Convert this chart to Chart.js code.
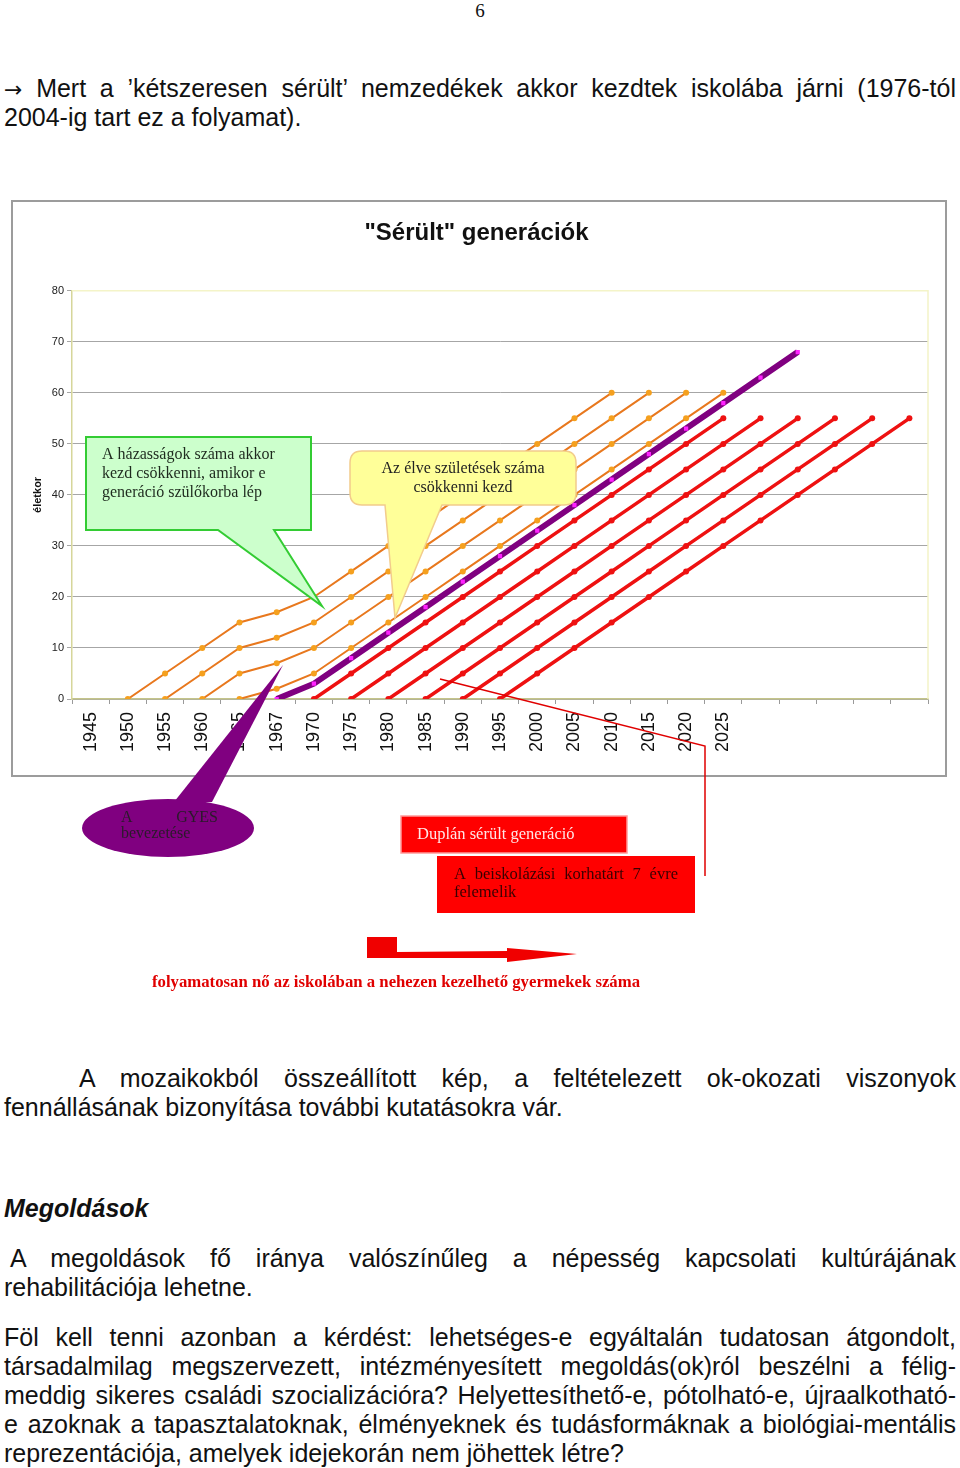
<!DOCTYPE html>
<html lang="hu">
<head>
<meta charset="utf-8">
<title>"Sérült" generációk</title>
<script src="https://cdn.jsdelivr.net/npm/chart.js@4.4.0/dist/chart.umd.min.js"></script>
<style>
  html, body { margin: 0; padding: 0; background: #fff; }
  body { width: 960px; height: 1468px; position: relative; overflow: hidden; font-family: "Liberation Sans", Arial, sans-serif; color: #111; }
  #grafikon { position: absolute; left: 0; top: 0; }
  .oldalszam { position: absolute; left: 0; width: 960px; top: 0; text-align: center; font-family: "Liberation Serif", serif; font-size: 19px; line-height: 22px; }
  .sor { position: absolute; left: 4px; width: 952px; font-size: 25px; line-height: 29px; white-space: nowrap; }
  .sorkizart { text-align: justify; text-align-last: justify; white-space: normal; }
  .cim { font-weight: bold; font-style: italic; }
  .nyil { font-family: "DejaVu Sans", sans-serif; font-size: 22px; }
</style>
</head>
<body>
<div class="oldalszam">6</div>
<div class="sor sorkizart" style="top:74px"><span class="nyil">→</span> Mert a ’kétszeresen sérült’ nemzedékek akkor kezdtek iskolába járni (1976-tól</div>
<div class="sor" style="top:103px">2004-ig tart ez a folyamat).</div>

<canvas id="grafikon" width="960" height="1010"></canvas>

<div class="sor sorkizart" style="top:1064px; left:79px; width:877px">A mozaikokból összeállított kép, a feltételezett ok-okozati viszonyok</div>
<div class="sor" style="top:1093px">fennállásának bizonyítása további kutatásokra vár.</div>
<div class="sor cim" style="top:1194px">Megoldások</div>
<div class="sor sorkizart" style="top:1244px; left:10px; width:946px">A megoldások fő iránya valószínűleg a népesség kapcsolati kultúrájának</div>
<div class="sor" style="top:1273px">rehabilitációja lehetne.</div>
<div class="sor sorkizart" style="top:1323px">Föl kell tenni azonban a kérdést: lehetséges-e egyáltalán tudatosan átgondolt,</div>
<div class="sor sorkizart" style="top:1352px">társadalmilag megszervezett, intézményesített megoldás(ok)ról beszélni a félig-</div>
<div class="sor sorkizart" style="top:1381px">meddig sikeres családi szocializációra? Helyettesíthető-e, pótolható-e, újraalkotható-</div>
<div class="sor sorkizart" style="top:1410px">e azoknak a tapasztalatoknak, élményeknek és tudásformáknak a biológiai-mentális</div>
<div class="sor" style="top:1439px">reprezentációja, amelyek idejekorán nem jöhettek létre?</div>

<script>
const evek = ['1945', '1950', '1955', '1960', '1965', '1967', '1970', '1975', '1980', '1985', '1990', '1995',
    '2000', '2005', '2010', '2015', '2020', '2025', '', '', '', '', ''];
const _ = null;
// szülők nemzedékei (narancs)
const narancs1 = [_, 0, 5, 10, 15, 17, 20, 25, 30, 35, 40, 45, 50, 55, 60, _, _, _, _, _, _, _, _];
const narancs2 = [_, _, 0, 5, 10, 12, 15, 20, 25, 30, 35, 40, 45, 50, 55, 60, _, _, _, _, _, _, _];
const narancs3 = [_, _, _, 0, 5, 7, 10, 15, 20, 25, 30, 35, 40, 45, 50, 55, 60, _, _, _, _, _, _];
const narancs4 = [_, _, _, _, 0, 2, 5, 10, 15, 20, 25, 30, 35, 40, 45, 50, 55, 60, _, _, _, _, _];
// GYES-es nemzedék (lila)
const lila = [_, _, _, _, _, 0, 3, 8, 13, 18, 23, 28, 33, 38, 43, 48, 53, 58, 63, 68, _, _, _];
// sérült nemzedékek (piros)
const piros1 = [_, _, _, _, _, _, 0, 5, 10, 15, 20, 25, 30, 35, 40, 45, 50, 55, _, _, _, _, _];
const piros2 = [_, _, _, _, _, _, _, 0, 5, 10, 15, 20, 25, 30, 35, 40, 45, 50, 55, _, _, _, _];
const piros3 = [_, _, _, _, _, _, _, _, 0, 5, 10, 15, 20, 25, 30, 35, 40, 45, 50, 55, _, _, _];
const piros4 = [_, _, _, _, _, _, _, _, _, 0, 5, 10, 15, 20, 25, 30, 35, 40, 45, 50, 55, _, _];
const piros5 = [_, _, _, _, _, _, _, _, _, _, 0, 5, 10, 15, 20, 25, 30, 35, 40, 45, 50, 55, _];
const piros6 = [_, _, _, _, _, _, _, _, _, _, _, 0, 5, 10, 15, 20, 25, 30, 35, 40, 45, 50, 55];

const narancsSorok = [narancs1, narancs2, narancs3, narancs4];
const pirosSorok = [piros1, piros2, piros3, piros4, piros5, piros6];

Chart.defaults.font.family = "'Liberation Sans', Arial, sans-serif";

function narancsVonal(adat) {
    return { data: adat, borderColor: '#E8781E', borderWidth: 2, pointRadius: 3, pointBackgroundColor: '#F5A01E',
        pointBorderWidth: 0, order: 3 };
}
function pirosVonal(adat) {
    return { data: adat, borderColor: '#EE1111', borderWidth: 3.5, pointRadius: 3, pointBackgroundColor: '#EE1111',
        pointBorderWidth: 0, order: 2 };
}

const datasets = [
    { data: lila, borderColor: '#800080', borderWidth: 6, pointStyle: 'rect', pointRadius: 3,
        pointBackgroundColor: '#FF22FF', pointBorderWidth: 0, order: 1 },
    ...pirosSorok.map(pirosVonal),
    ...narancsSorok.map(narancsVonal)
];

// szöveg sorkizárva a megadott szélességre
function sorkizart(ctx, szoveg, x, y, szelesseg) {
    const szavak = szoveg.split(' ');
    const osszes = szavak.reduce((s, w) => s + ctx.measureText(w).width, 0);
    const koz = (szelesseg - osszes) / (szavak.length - 1);
    let px = x;
    szavak.forEach(w => {
        ctx.fillText(w, px, y);
        px += ctx.measureText(w).width + koz;
    });
}

const keret = {
    id: 'keret',
    beforeDraw(chart) {
        const ctx = chart.ctx;
        ctx.save();
        ctx.strokeStyle = '#9c9c9c';
        ctx.lineWidth = 2;
        ctx.strokeRect(12, 201, 934, 575);
        ctx.restore();
    },
    beforeDatasetsDraw(chart) {
        const { ctx, chartArea: a } = chart;
        ctx.save();
        ctx.strokeStyle = '#F4F4C8';
        ctx.lineWidth = 1.5;
        ctx.beginPath();
        ctx.moveTo(a.left, a.top);
        ctx.lineTo(a.right, a.top);
        ctx.lineTo(a.right, a.bottom);
        ctx.stroke();
        ctx.restore();
    }
};

const rajzok = {
    id: 'rajzok',
    afterDraw(chart) {
        const ctx = chart.ctx;
        ctx.save();
        ctx.textBaseline = 'middle';

        // zöld szövegbuborék
        ctx.beginPath();
        ctx.moveTo(86, 437); ctx.lineTo(311, 437); ctx.lineTo(311, 530); ctx.lineTo(274, 530);
        ctx.lineTo(322, 606); ctx.lineTo(218, 530); ctx.lineTo(86, 530); ctx.closePath();
        ctx.fillStyle = '#CCFFCC';
        ctx.fill();
        ctx.strokeStyle = '#33CC33';
        ctx.lineWidth = 2;
        ctx.stroke();
        ctx.fillStyle = '#1E2A1E';
        ctx.font = "16px 'Liberation Serif', serif";
        ctx.textAlign = 'left';
        ctx.fillText('A házasságok száma akkor', 102, 455);
        ctx.fillText('kezd csökkenni, amikor e', 102, 474);
        ctx.fillText('generáció szülőkorba lép', 102, 493);

        // sárga szövegbuborék
        ctx.beginPath();
        const r = 12;
        ctx.moveTo(350 + r, 451);
        ctx.lineTo(576 - r, 451); ctx.quadraticCurveTo(576, 451, 576, 451 + r);
        ctx.lineTo(576, 505 - r); ctx.quadraticCurveTo(576, 505, 576 - r, 505);
        ctx.lineTo(442, 505); ctx.lineTo(395, 618); ctx.lineTo(385, 505);
        ctx.lineTo(350 + r, 505); ctx.quadraticCurveTo(350, 505, 350, 505 - r);
        ctx.lineTo(350, 451 + r); ctx.quadraticCurveTo(350, 451, 350 + r, 451);
        ctx.closePath();
        ctx.fillStyle = '#FFFF99';
        ctx.fill();
        ctx.strokeStyle = '#F2CC8C';
        ctx.lineWidth = 1.5;
        ctx.stroke();
        ctx.fillStyle = '#222';
        ctx.textAlign = 'center';
        ctx.fillText('Az élve születések száma', 463, 469);
        ctx.fillText('csökkenni kezd', 463, 488);

        // piros összekötő vonal
        ctx.beginPath();
        ctx.moveTo(440, 679); ctx.lineTo(705, 746); ctx.lineTo(705, 876);
        ctx.strokeStyle = '#E00000';
        ctx.lineWidth = 1.5;
        ctx.stroke();

        // lila ellipszis a GYES-hez
        ctx.fillStyle = '#800080';
        ctx.beginPath();
        ctx.moveTo(174, 802); ctx.lineTo(283, 665); ctx.lineTo(212, 802); ctx.closePath();
        ctx.fill();
        ctx.beginPath();
        ctx.ellipse(168, 828, 86, 29, 0, 0, Math.PI * 2);
        ctx.fill();
        ctx.fillStyle = '#2a1a2a';
        ctx.textAlign = 'left';
        sorkizart(ctx, 'A GYES', 121, 818, 97);
        ctx.fillText('bevezetése', 121, 834);

        // piros dobozok
        ctx.font = "16.5px 'Liberation Serif', serif";
        ctx.fillStyle = '#FF0000';
        ctx.fillRect(401, 816, 226, 37);
        ctx.strokeStyle = '#FF9A9A';
        ctx.lineWidth = 1.5;
        ctx.strokeRect(401, 816, 226, 37);
        ctx.fillStyle = '#FFE6E6';
        ctx.fillText('Duplán sérült generáció', 417, 835);
        ctx.fillStyle = '#FF0000';
        ctx.fillRect(437, 856, 258, 57);
        ctx.fillStyle = '#3a0000';
        sorkizart(ctx, 'A beiskolázási korhatárt 7 évre', 454, 875, 224);
        ctx.fillText('felemelik', 454, 893);

        // piros nyíl
        ctx.fillStyle = '#F00000';
        ctx.beginPath();
        ctx.moveTo(367, 937); ctx.lineTo(397, 937); ctx.lineTo(397, 952); ctx.lineTo(507, 951);
        ctx.lineTo(507, 948); ctx.lineTo(577, 954); ctx.lineTo(507, 962); ctx.lineTo(507, 958);
        ctx.lineTo(367, 958); ctx.closePath();
        ctx.fill();

        ctx.fillStyle = '#E00000';
        ctx.font = "bold 17px 'Liberation Serif', serif";
        ctx.textAlign = 'center';
        ctx.fillText('folyamatosan nő az iskolában a nehezen kezelhető gyermekek száma', 396, 983, 488);
        ctx.restore();
    }
};

new Chart(document.getElementById('grafikon'), {
    type: 'line',
    data: { labels: evek, datasets: datasets },
    options: {
        responsive: false,
        animation: false,
        layout: { padding: { top: 219, left: 25, right: 32, bottom: 241 } },
        elements: { line: { tension: 0 } },
        plugins: {
            legend: { display: false },
            tooltip: { enabled: false },
            title: {
                display: true,
                text: '"Sérült" generációk',
                color: '#111',
                font: { size: 24, weight: 'bold' },
                padding: { top: 0, bottom: 43 }
            }
        },
        scales: {
            x: {
                offset: true,
                afterFit: s => { s.height = 70; },
                grid: { offset: true, drawOnChartArea: false, tickLength: 5, color: '#9a9a9a' },
                border: { color: '#C4C48A', width: 1.5 },
                ticks: { autoSkip: false, minRotation: 90, maxRotation: 90, padding: 8, color: '#111',
                    font: { size: 18 } }
            },
            y: {
                min: 0,
                max: 80,
                afterFit: s => { s.width = 47; },
                grid: { color: '#a6a6a6', tickLength: 5 },
                border: { color: '#D6D69A', width: 1.5 },
                ticks: { stepSize: 10, color: '#222', font: { size: 11 }, padding: 3 },
                title: { display: true, text: 'életkor', color: '#111', font: { size: 11, weight: 'bold' },
                    padding: { top: 6, bottom: 0 } }
            }
        }
    },
    plugins: [keret, rajzok]
});
</script>
</body>
</html>
